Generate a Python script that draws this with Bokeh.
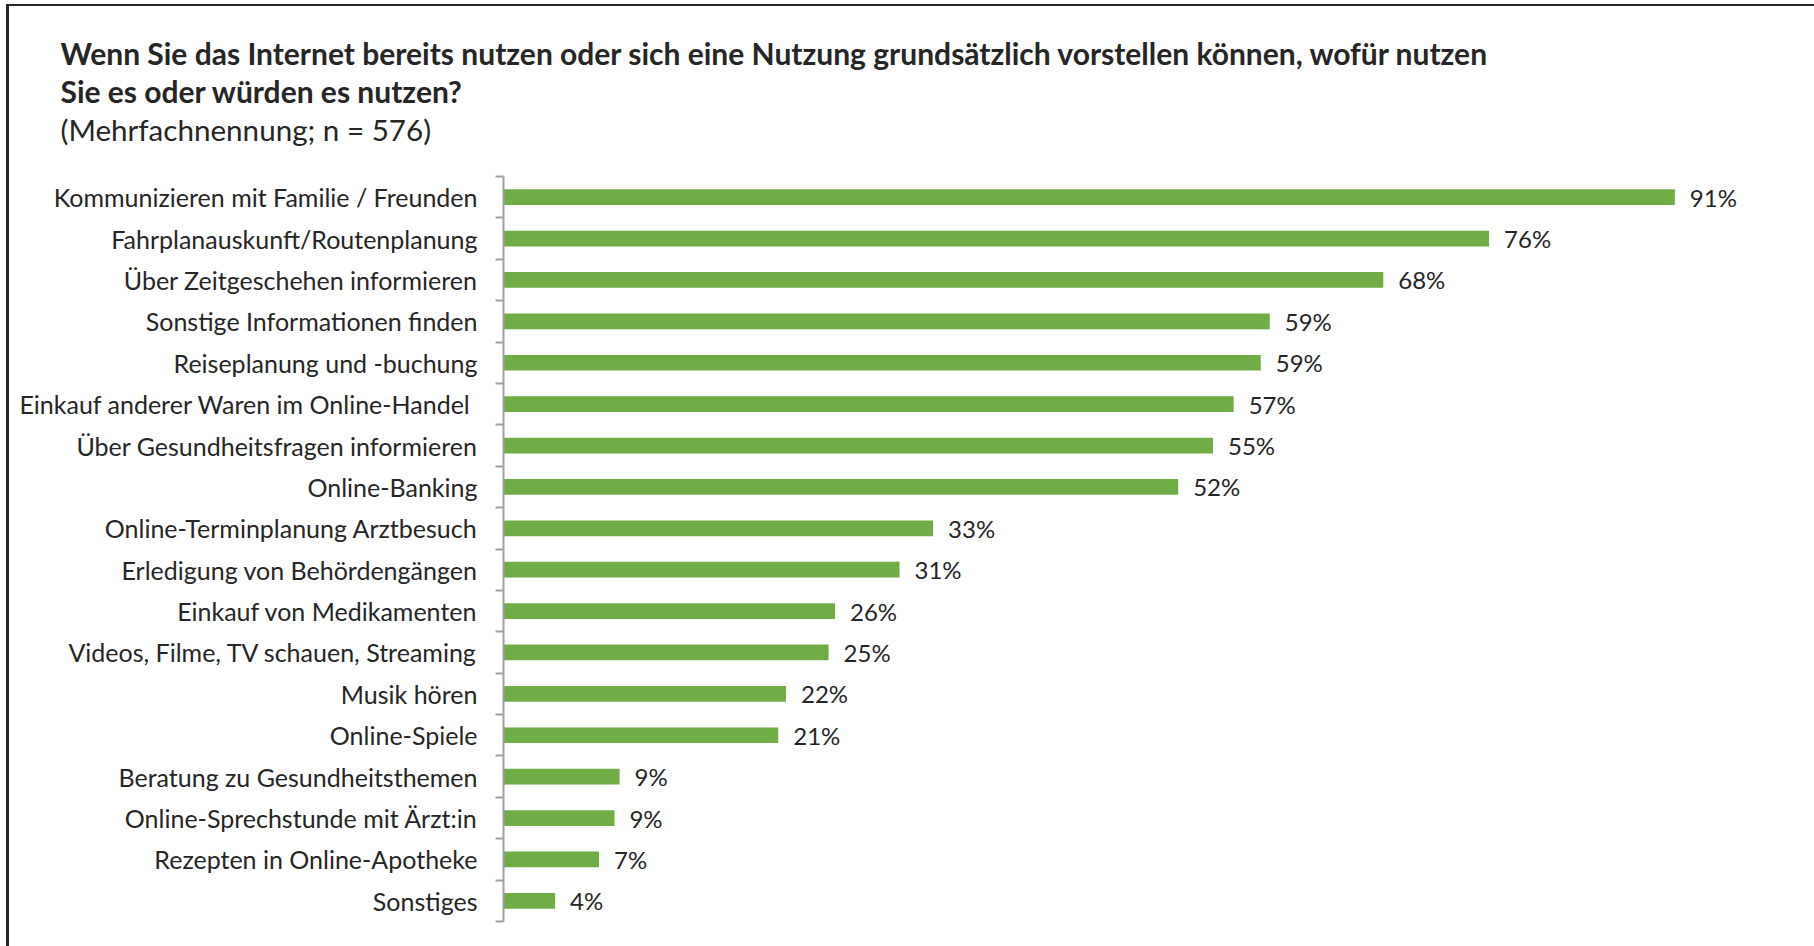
from bokeh.plotting import figure
from bokeh.models import Range1d, FixedTicker, Title, ColumnDataSource
from bokeh.core.properties import value
from bokeh.embed import file_html
from bokeh.resources import INLINE

# ---- data ----
categories = [
    "Kommunizieren mit Familie / Freunden",
    "Fahrplanauskunft/Routenplanung",
    "Über Zeitgeschehen informieren",
    "Sonstige Informationen finden",
    "Reiseplanung und -buchung",
    "Einkauf anderer Waren im Online-Handel ",
    "Über Gesundheitsfragen informieren",
    "Online-Banking",
    "Online-Terminplanung Arztbesuch",
    "Erledigung von Behördengängen",
    "Einkauf von Medikamenten",
    "Videos, Filme, TV schauen, Streaming",
    "Musik hören",
    "Online-Spiele",
    "Beratung zu Gesundheitsthemen",
    "Online-Sprechstunde mit Ärzt:in",
    "Rezepten in Online-Apotheke",
    "Sonstiges",
]
values = [90.8, 76.4, 68.2, 59.4, 58.7, 56.6, 55.0, 52.3, 33.3, 30.7,
          25.7, 25.2, 21.9, 21.3, 9.0, 8.6, 7.4, 4.0]

title_lines = [
    "Wenn Sie das Internet bereits nutzen oder sich eine Nutzung grundsätzlich vorstellen können, wofür nutzen",
    "Sie es oder würden es nutzen?",
]
subtitle = "(Mehrfachnennung; n = 576)"

# ---- styling ----
FONT = "Lato"
TEXT_COLOR = "#262626"
BAR_COLOR = "#70AD47"
AXIS_COLOR = "#A0A0A0"

n = len(categories)
positions = list(range(n))
labels = [f"{v:.0f}%" for v in values]

source = ColumnDataSource(dict(cat=categories, pos=positions, val=values, lab=labels))

W, H = 1814, 946
LEFT, RIGHT, TOP, BOTTOM = 503, 21, 176, 25

p = figure(
    width=W, height=H,
    output_backend="svg", toolbar_location=None,
    x_range=Range1d(0, 100),
    y_range=Range1d(n - 0.5, -0.5),
    min_border_left=LEFT, min_border_right=RIGHT,
    min_border_top=TOP, min_border_bottom=BOTTOM,
    x_axis_location=None,
)
p.styles = {
    "background-color": "white",
    "background-image": "linear-gradient(#262626, #262626), linear-gradient(#262626, #262626)",
    "background-size": "3px 100%, 100% 2px",
    "background-position": "6px 4px, 6px 4px",
    "background-repeat": "no-repeat",
}
p.outline_line_color = None
p.xgrid.visible = False
p.ygrid.visible = False
p.background_fill_alpha = 0
p.border_fill_alpha = 0

p.hbar(y="pos", left=0, right="val", height=0.38, source=source,
       fill_color=BAR_COLOR, line_color=None)

p.text(x="val", y="pos", text="lab", source=source, x_offset=15,
       text_baseline="middle", text_align="left",
       text_font=value(FONT), text_font_size="24px", text_color=TEXT_COLOR)

ax = p.yaxis[0]
ax.ticker = FixedTicker(ticks=positions, minor_ticks=[i - 0.5 for i in range(n + 1)])
ax.major_label_overrides = {i: c for i, c in zip(positions, categories)}
ax.major_tick_in = 0
ax.major_tick_out = 0
ax.minor_tick_in = 0
ax.minor_tick_out = 8
ax.minor_tick_line_color = AXIS_COLOR
ax.minor_tick_line_width = 2
ax.axis_line_color = AXIS_COLOR
ax.axis_line_width = 2
ax.major_label_standoff = 18
ax.major_label_text_font = FONT
ax.major_label_text_font_size = "25px"
ax.major_label_text_color = TEXT_COLOR

# title block: titles stack outward from the frame (last added is on top)
OFF = 60 - LEFT
p.add_layout(Title(text=" ", text_font_size="10px", standoff=15), "above")
p.add_layout(Title(text=subtitle, align="left", offset=OFF, standoff=3,
                   text_font=FONT, text_font_size="29.6px", text_font_style="normal",
                   text_color=TEXT_COLOR), "above")
p.add_layout(Title(text=title_lines[1], align="left", offset=OFF, standoff=0,
                   text_font=FONT, text_font_size="30px", text_font_style="bold",
                   text_color=TEXT_COLOR), "above")
p.add_layout(Title(text=title_lines[0], align="left", offset=OFF, standoff=0,
                   text_font=FONT, text_font_size="30px", text_font_style="bold",
                   text_color=TEXT_COLOR), "above")

open("out.html", "w").write(file_html(p, INLINE))
